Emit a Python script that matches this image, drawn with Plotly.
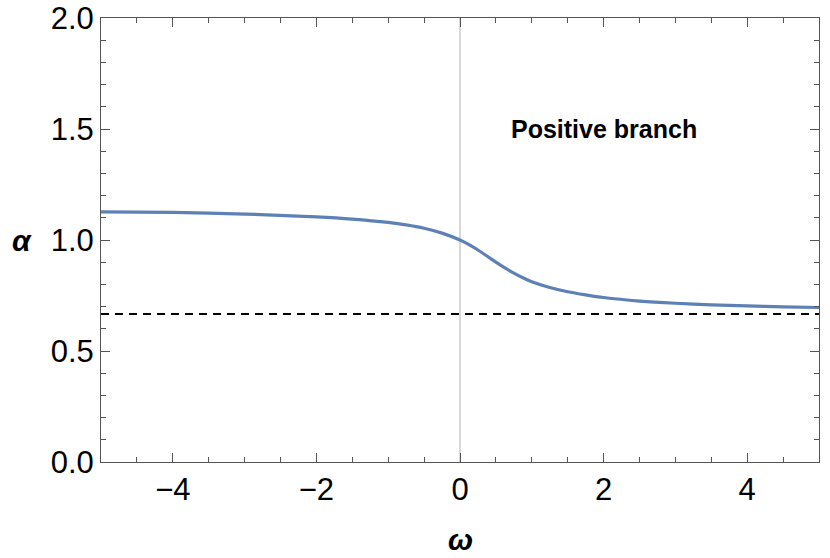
import plotly.graph_objects as go

omega = [-5, -4, -3, -2, -1.5, -1, -0.75, -0.5, -0.25, 0, 0.125, 0.25, 0.375, 0.5,
         0.625, 0.75, 0.875, 1.0, 1.25, 1.5, 1.75, 2.0, 2.5, 3.0, 3.5, 4.0, 4.5, 5.0]
alpha = [1.127, 1.124, 1.117, 1.104, 1.094, 1.079, 1.068, 1.053, 1.031, 1.0,
         0.979, 0.955, 0.928, 0.900, 0.874, 0.851, 0.830, 0.812, 0.786, 0.767,
         0.753, 0.741, 0.725, 0.715, 0.708, 0.703, 0.699, 0.696]
asymptote = 2 / 3
x_range = [-5, 5]
y_range = [0, 2]
x_ticks = [-4, -2, 0, 2, 4]
y_ticks = [0.0, 0.5, 1.0, 1.5, 2.0]
label_text = "Positive branch"

FONT = "Liberation Sans, Arial, sans-serif"
AX = "#555555"

fig = go.Figure()
fig.add_trace(go.Scatter(x=[0, 0], y=y_range, mode="lines",
                         line=dict(color="#c4c4c4", width=1.3),
                         hoverinfo="skip", showlegend=False))
fig.add_trace(go.Scatter(x=x_range, y=[asymptote, asymptote], mode="lines",
                         line=dict(color="black", width=2, dash="8px,6px"),
                         showlegend=False))
fig.add_trace(go.Scatter(x=omega, y=alpha, mode="lines",
                         line=dict(color="#5E81B5", width=3.2, shape="spline", smoothing=0.7),
                         showlegend=False))

axis_common = dict(showline=True, linecolor=AX, linewidth=1, mirror="ticks",
                   ticks="inside", tickcolor=AX, tickwidth=1, ticklen=9,
                   showgrid=False, zeroline=False, automargin=False,
                   ticklabeloverflow="allow",
                   tickfont=dict(family=FONT, size=31, color="black"))
fig.update_xaxes(range=x_range, tickvals=x_ticks,
                 ticktext=[("\u2212" + str(-v)) if v < 0 else str(v) for v in x_ticks],
                 minor=dict(dtick=0.5, ticks="inside", ticklen=5, tickcolor=AX, showgrid=False),
                 **axis_common)
fig.update_yaxes(range=y_range, tickvals=y_ticks,
                 ticktext=[f"{v:.1f}" for v in y_ticks],
                 minor=dict(dtick=0.1, ticks="inside", ticklen=5, tickcolor=AX, showgrid=False),
                 **axis_common)

fig.add_annotation(x=2, y=1.5, xref="x", yref="y", text=f"<b>{label_text}</b>",
                   showarrow=False, font=dict(family=FONT, size=25, color="black"))
fig.add_annotation(x=0, y=0.5, xref="paper", yref="paper", text="<b><i>α</i></b>",
                   showarrow=False, xanchor="center", yanchor="middle", xshift=-79,
                   font=dict(family=FONT, size=30, color="black"))
fig.add_annotation(x=0.5, y=0, xref="paper", yref="paper", text="<b><i>ω</i></b>",
                   showarrow=False, xanchor="center", yanchor="middle", yshift=-77,
                   font=dict(family=FONT, size=30, color="black"))

fig.update_layout(width=830, height=558, plot_bgcolor="white", paper_bgcolor="white",
                  margin=dict(l=101, r=11, t=18, b=96), showlegend=False)

fig.write_html("out.html", config={"displayModeBar": False},
               post_script="document.body.style.margin='0';")
